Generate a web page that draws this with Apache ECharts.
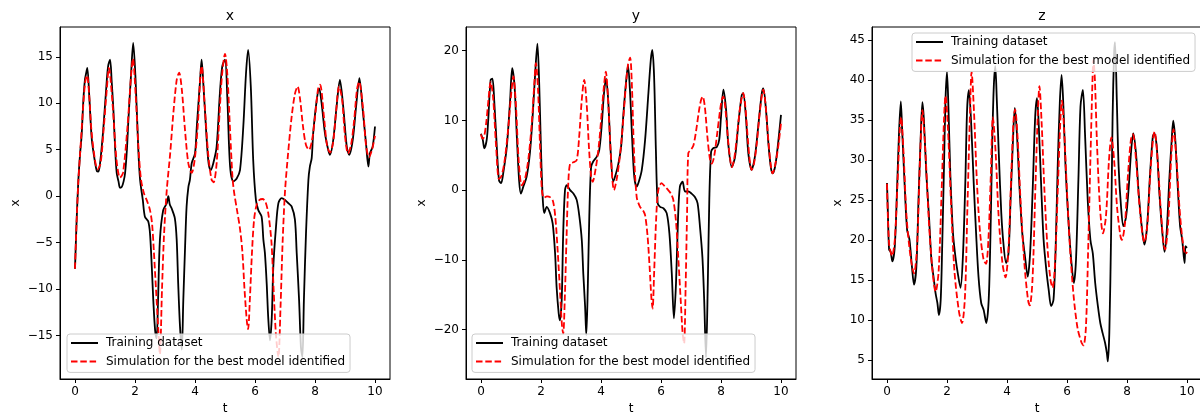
<!DOCTYPE html>
<html><head><meta charset="utf-8">
<script src="https://cdn.jsdelivr.net/npm/echarts@6/dist/echarts.min.js"></script>
<style>html,body{margin:0;padding:0;background:#fff}#c{width:1200px;height:414px}</style>
</head><body><div id="c"></div>
<script>
// ---------------- data ----------------
const panelTitles = ['x', 'y', 'z'];
const seriesNames = ['Training dataset', 'Simulation for the best model identified'];
const tTicks = [0, 2, 4, 6, 8, 10];
const xTicks = [-15, -10, -5, 0, 5, 10, 15];
const yTicks = [-20, -10, 0, 10, 20];
const zTicks = [5, 10, 15, 20, 25, 30, 35, 40, 45];

const xTraining = [[0,-7.8],[0.05,-3],[0.11,1.6],[0.17,4.6],[0.22,6.5],[0.28,10.4],[0.33,12.5],[0.37,13.2],[0.41,13.8],[0.48,10.5],[0.56,6.1],[0.67,3.6],[0.73,2.7],[0.78,2.65],[0.83,3.4],[0.94,7.1],[1.06,12.5],[1.11,14.1],[1.17,14.7],[1.22,12.5],[1.28,9.3],[1.34,5.0],[1.39,2.5],[1.45,1.6],[1.5,0.9],[1.56,1.0],[1.62,1.6],[1.67,2.5],[1.73,5],[1.78,8.2],[1.87,13.2],[1.94,16.5],[2.02,12.5],[2.11,5.0],[2.17,1.75],[2.26,-0.4],[2.33,-2.2],[2.44,-2.7],[2.5,-4.0],[2.56,-7.6],[2.61,-11.2],[2.67,-14.4],[2.72,-15.3],[2.77,-11],[2.83,-4.7],[2.94,-1.5],[3.06,-0.75],[3.11,0],[3.16,-0.9],[3.22,-1.3],[3.33,-2.4],[3.39,-4.7],[3.44,-9.4],[3.5,-14],[3.56,-16.5],[3.61,-11.2],[3.67,-5.4],[3.72,-1.1],[3.78,1.0],[3.83,1.75],[3.89,3.55],[4.0,4.6],[4.06,7.5],[4.17,12.5],[4.22,14.7],[4.28,12],[4.33,9.3],[4.44,3.9],[4.52,2.8],[4.61,3.55],[4.72,5.3],[4.83,11.1],[4.91,14.0],[5.0,14.7],[5.08,10.4],[5.17,3.2],[5.28,1.6],[5.39,1.9],[5.5,2.8],[5.61,7.5],[5.7,13.2],[5.77,15.75],[5.86,11.8],[5.94,3.9],[6.03,-0.4],[6.11,-1.5],[6.22,-2.2],[6.28,-4.7],[6.33,-6.1],[6.39,-9.4],[6.44,-13],[6.5,-15.5],[6.56,-13],[6.61,-7.6],[6.7,-3.3],[6.78,-0.75],[6.89,-0.2],[7.0,-0.4],[7.11,-0.75],[7.22,-1.1],[7.33,-2.5],[7.39,-6.1],[7.47,-11.2],[7.53,-16.2],[7.58,-17.3],[7.63,-11.2],[7.7,-4],[7.78,1.75],[7.83,3.2],[7.89,4.1],[7.94,6.8],[8.06,10.4],[8.14,11.6],[8.22,10],[8.33,6.8],[8.44,5.0],[8.5,4.45],[8.61,6.1],[8.72,9.65],[8.83,12.5],[8.94,9.65],[9.06,5.3],[9.14,4.45],[9.26,6.1],[9.37,9.65],[9.48,12.7],[9.59,9.3],[9.7,5.7],[9.78,3.2],[9.83,4.6],[9.92,5.3],[10,7.5]];

const xSimulation = [[0,-7.8],[0.05,-3],[0.11,1.5],[0.17,4.6],[0.28,10],[0.34,12.3],[0.4,13],[0.47,11],[0.55,7],[0.67,3.8],[0.75,2.9],[0.85,3.5],[0.95,7],[1.06,11.5],[1.13,13.8],[1.25,10],[1.38,4],[1.5,2.0],[1.6,2.5],[1.75,7.5],[1.87,13],[1.93,14.8],[2.02,11],[2.12,5],[2.2,1.8],[2.3,0.3],[2.4,-0.5],[2.5,-1.5],[2.57,-3],[2.63,-6],[2.7,-10],[2.78,-14.5],[2.83,-17.0],[2.9,-10],[2.97,-4],[3.06,0.7],[3.17,4.5],[3.28,9],[3.39,12.5],[3.47,13.3],[3.56,11.5],[3.67,7],[3.78,3.5],[3.89,2.5],[4.0,4.2],[4.1,8],[4.17,12.5],[4.22,14],[4.33,9.5],[4.44,4.5],[4.55,1.8],[4.62,1.5],[4.72,3.5],[4.82,9],[4.9,13],[5.0,15.3],[5.08,13],[5.17,7],[5.25,2],[5.3,0.5],[5.4,-1.5],[5.5,-3.5],[5.58,-6],[5.65,-10],[5.73,-13.5],[5.77,-14.3],[5.83,-11],[5.9,-6],[5.97,-2.5],[6.05,-1],[6.15,-0.4],[6.25,-0.3],[6.35,-0.6],[6.45,-2],[6.55,-5],[6.62,-10],[6.7,-15],[6.78,-17.3],[6.85,-12],[6.92,-5],[7.0,0.5],[7.1,4.5],[7.22,8.5],[7.33,11],[7.42,11.8],[7.5,10.5],[7.6,7.5],[7.7,5.5],[7.8,5.0],[7.9,6],[8.0,8.5],[8.1,11.5],[8.17,12],[8.3,8.5],[8.4,5.5],[8.5,4.7],[8.6,5.7],[8.7,9],[8.8,11.8],[8.9,10.5],[9.0,6.5],[9.1,4.6],[9.2,5.5],[9.3,8],[9.4,11.5],[9.47,12.3],[9.6,9.5],[9.7,5.5],[9.8,4.2],[9.9,5],[10,6.5]];

const yTraining = [[0,8.1],[0.06,7.2],[0.11,6.0],[0.19,7.2],[0.24,10],[0.32,15.8],[0.38,16],[0.44,12.9],[0.52,6.7],[0.6,1.4],[0.67,1.0],[0.74,2.4],[0.86,6.2],[0.97,12.9],[1.04,17.5],[1.12,14.8],[1.19,8.1],[1.27,1.4],[1.33,-0.5],[1.41,0.5],[1.52,1.9],[1.63,5.3],[1.72,10.5],[1.8,16.3],[1.88,21],[1.94,15.3],[2.0,5.7],[2.06,-1.4],[2.11,-3.3],[2.19,-2.4],[2.3,-3.3],[2.39,-4.8],[2.47,-9.1],[2.52,-13.9],[2.59,-17.7],[2.63,-18.7],[2.69,-15.8],[2.74,-6.2],[2.8,0],[2.86,0.7],[2.97,0],[3.08,-0.5],[3.19,-1.4],[3.28,-3.8],[3.36,-7.2],[3.41,-12],[3.47,-16.7],[3.51,-20.8],[3.56,-13.9],[3.61,-3.8],[3.67,3.3],[3.74,4.1],[3.86,4.8],[3.94,5.7],[4.02,9.1],[4.1,13.9],[4.17,16],[4.24,12.9],[4.32,5.7],[4.41,1.2],[4.5,2.4],[4.58,3.8],[4.67,6.2],[4.74,10.5],[4.82,14.8],[4.9,17.9],[4.97,13.9],[5.04,7.2],[5.11,1.9],[5.19,0.5],[5.26,1.2],[5.36,2.9],[5.47,7.2],[5.58,13.9],[5.66,18.7],[5.71,20.1],[5.77,16.3],[5.83,5.7],[5.89,-1.9],[5.97,-2.4],[6.08,-2.6],[6.19,-3.3],[6.28,-6.2],[6.36,-12],[6.43,-18.4],[6.5,-13.4],[6.57,-3.8],[6.63,0.5],[6.72,1.2],[6.8,-0.2],[6.91,-0.2],[7.02,-0.5],[7.13,-1.0],[7.22,-1.9],[7.3,-5.3],[7.38,-9.6],[7.44,-15.8],[7.5,-24],[7.56,-13.4],[7.61,-1.4],[7.67,5.5],[7.74,6.0],[7.86,6.2],[7.94,7.2],[8.0,10.5],[8.08,14.4],[8.17,11.5],[8.24,6.7],[8.36,3.3],[8.47,4.8],[8.58,9.6],[8.69,13.6],[8.74,13.9],[8.83,10.5],[8.91,5.3],[9.02,2.9],[9.13,4.8],[9.24,9.1],[9.36,13.9],[9.41,14.6],[9.5,11.5],[9.58,6.7],[9.66,3.3],[9.72,2.4],[9.8,3.3],[9.89,6.2],[10,10.8]];

const ySimulation = [[0,8.0],[0.05,7.4],[0.1,7.6],[0.17,9.5],[0.25,13],[0.32,15.5],[0.4,13.5],[0.5,6.5],[0.6,1.6],[0.68,2],[0.78,4],[0.9,8.5],[1.0,13.5],[1.08,16.3],[1.16,12.5],[1.26,4],[1.36,0.7],[1.46,1.5],[1.58,4.5],[1.7,10],[1.78,15.5],[1.83,18.2],[1.9,14.5],[1.97,6],[2.03,0],[2.1,-1.1],[2.2,-0.9],[2.3,-1.0],[2.4,-1.6],[2.48,-4],[2.56,-9],[2.64,-15],[2.7,-19.5],[2.74,-20.6],[2.79,-16],[2.85,-7],[2.91,1],[2.97,3.8],[3.08,4.0],[3.19,4.3],[3.27,7.5],[3.36,13],[3.44,15.8],[3.52,12.5],[3.6,6],[3.67,2],[3.72,1.2],[3.82,3],[3.93,6.5],[4.03,11.5],[4.1,15],[4.16,17],[4.23,13.5],[4.31,6.5],[4.38,1.5],[4.43,0],[4.52,1.5],[4.62,4.5],[4.72,9],[4.82,14.5],[4.9,18],[4.97,19],[5.03,15],[5.1,5.5],[5.19,-1],[5.3,-2.4],[5.4,-2.9],[5.47,-3.6],[5.55,-6.5],[5.62,-11],[5.68,-15.5],[5.72,-17],[5.77,-12],[5.84,-4],[5.91,0],[6.02,1.0],[6.13,0.5],[6.24,0],[6.33,-0.5],[6.41,-1.4],[6.5,-4.5],[6.58,-10],[6.66,-16],[6.72,-20.5],[6.77,-22],[6.82,-14],[6.87,-3],[6.91,5.3],[7.0,5.8],[7.08,6.4],[7.17,8.5],[7.27,11.5],[7.34,13],[7.39,13.4],[7.46,12],[7.55,7.5],[7.63,4.5],[7.69,3.8],[7.77,4.8],[7.87,8],[7.97,11.5],[8.03,13],[8.08,13.4],[8.15,11.5],[8.25,6.5],[8.32,4],[8.36,3.3],[8.44,4.5],[8.54,8],[8.64,12],[8.74,13.9],[8.8,12.5],[8.9,7],[8.97,3.8],[9.02,2.9],[9.1,3.8],[9.2,7],[9.3,11.5],[9.41,14.4],[9.48,12.5],[9.58,7],[9.66,3.5],[9.72,2.4],[9.8,3.5],[9.9,6],[10,9.6]];

const zTraining = [[0,27.1],[0.03,23.3],[0.07,18.75],[0.12,18.5],[0.18,17.3],[0.26,19.2],[0.33,25.8],[0.4,33.3],[0.46,37.3],[0.51,33.3],[0.59,26.7],[0.67,21.25],[0.75,20],[0.83,16.7],[0.9,14.4],[0.98,16.7],[1.05,25],[1.12,32.5],[1.18,37.2],[1.23,35],[1.31,28.3],[1.4,22.9],[1.48,17.5],[1.55,15.4],[1.62,13.3],[1.68,12.1],[1.73,10.6],[1.79,12.5],[1.84,19.2],[1.9,29.2],[1.95,37.5],[2.0,41],[2.05,36.25],[2.11,28.3],[2.2,20.8],[2.28,17.9],[2.36,15.8],[2.45,14.0],[2.53,17.9],[2.61,27.1],[2.67,36.25],[2.73,38.7],[2.81,34.2],[2.89,27.1],[2.97,20.8],[3.05,15.4],[3.14,12.1],[3.22,11.25],[3.31,9.6],[3.39,12.5],[3.45,20.8],[3.51,32.5],[3.56,39.2],[3.61,41.7],[3.66,37.5],[3.73,30.4],[3.81,23.3],[3.88,19.6],[3.97,17.1],[4.05,18.3],[4.12,25],[4.2,32.5],[4.26,36.5],[4.33,33.3],[4.42,26.25],[4.51,20.8],[4.6,17.9],[4.69,15.4],[4.77,18.3],[4.86,26.7],[4.94,35.4],[5.0,37.7],[5.06,34.2],[5.14,26.7],[5.22,20],[5.31,16.25],[5.39,13.75],[5.47,11.7],[5.55,12.5],[5.62,18.75],[5.69,29.2],[5.76,37.1],[5.82,40.6],[5.88,36.7],[5.95,29.2],[6.04,22.9],[6.14,17.5],[6.23,14.6],[6.3,17.5],[6.38,27.5],[6.45,36.7],[6.53,38.75],[6.6,33.3],[6.69,25],[6.78,20],[6.86,18.3],[6.94,14.6],[7.03,11.7],[7.11,9.6],[7.19,8.3],[7.27,7.1],[7.33,5.8],[7.36,4.8],[7.41,8.3],[7.47,20.8],[7.52,35.4],[7.57,43.3],[7.6,44.7],[7.66,37.5],[7.72,29.2],[7.8,24.2],[7.88,21.7],[7.97,22.9],[8.06,26.7],[8.14,31.25],[8.21,33.3],[8.3,30.8],[8.39,25.8],[8.49,21.7],[8.58,19.4],[8.67,21.7],[8.77,28.3],[8.86,32.9],[8.91,33.3],[8.99,31.7],[9.08,25.8],[9.17,21.25],[9.25,18.5],[9.32,20.8],[9.41,27.5],[9.49,32.5],[9.54,34.9],[9.61,32.5],[9.69,26.7],[9.77,21.7],[9.84,20],[9.92,17.1],[9.95,19.2],[10,19]];

const zSimulation = [[0,27],[0.07,19.5],[0.17,18],[0.26,20],[0.35,27],[0.43,34],[0.47,35.3],[0.55,31],[0.65,23],[0.78,18],[0.9,15.8],[1.0,19],[1.1,30],[1.18,36.2],[1.28,31],[1.4,22],[1.52,16],[1.62,13.5],[1.72,16],[1.82,26],[1.9,35],[1.95,38],[2.03,34],[2.13,25],[2.25,16],[2.4,11],[2.5,9.6],[2.6,13],[2.68,24],[2.76,35],[2.82,41],[2.9,36],[3.0,27],[3.1,21],[3.22,17.5],[3.3,17.0],[3.38,20],[3.46,28],[3.53,35.3],[3.62,31],[3.72,23],[3.85,17],[3.95,15.3],[4.05,19],[4.15,29],[4.22,35],[4.27,36.3],[4.35,33],[4.45,25],[4.58,17],[4.7,12.5],[4.76,11.8],[4.85,15],[4.95,27],[5.03,36],[5.08,39.2],[5.15,35],[5.25,26],[5.35,19],[5.45,15],[5.52,14],[5.6,17],[5.7,27],[5.78,35],[5.83,37.4],[5.9,34],[6.0,26],[6.1,19],[6.22,13],[6.35,9],[6.48,7.2],[6.55,6.8],[6.63,9],[6.7,18],[6.78,30],[6.85,40],[6.88,42.5],[6.93,40],[7.0,32],[7.1,24],[7.2,20.8],[7.3,23],[7.4,30],[7.48,32.8],[7.57,30],[7.67,24],[7.78,20.5],[7.83,20],[7.93,22],[8.03,28],[8.13,32.5],[8.2,33.2],[8.3,30],[8.4,25],[8.52,20.5],[8.58,19.7],[8.68,22],[8.78,28.5],[8.88,33],[8.92,33.5],[9.02,30],[9.12,24],[9.22,19.5],[9.27,18.8],[9.37,22],[9.47,30],[9.55,33.8],[9.65,30],[9.75,24],[9.85,20],[9.95,18.2],[10,18.5]];

// ---------------- layout ----------------
const FONT = 'DejaVu Sans';
const panels = [
  {left: 60,  yMin: -19.66, yMax: 18.2, ticks: xTicks, train: xTraining, sim: xSimulation, nameGap: 38, legend: {left: 67, top: 334}},
  {left: 466, yMin: -27.1,  yMax: 23.4, ticks: yTicks, train: yTraining, sim: ySimulation, nameGap: 38, legend: {left: 472, top: 334}},
  {left: 872, yMin: 2.6,    yMax: 46.6, ticks: zTicks, train: zTraining, sim: zSimulation, nameGap: 28, legend: {left: 912, top: 33}}
];
const W = 330, TOP = 27, H = 352;
const minus = v => String(v).replace('-', '\u2212');

const option = {
  animation: false,
  backgroundColor: '#fff',
  textStyle: {fontFamily: FONT},
  title: panels.map((p, i) => ({
    text: panelTitles[i], left: p.left + W / 2, top: 4, textAlign: 'center',
    textStyle: {fontFamily: FONT, fontSize: 14, fontWeight: 'normal', color: '#000'}
  })),
  legend: panels.map(p => ({
    data: seriesNames, orient: 'vertical', left: p.legend.left, top: p.legend.top,
    padding: [2, 5, 4, 3], itemWidth: 27, itemHeight: 14, itemGap: 4.4,
    backgroundColor: 'rgba(255,255,255,0.8)', borderColor: '#cccccc', borderWidth: 1, borderRadius: 3,
    selectedMode: false,
    itemStyle: {opacity: 0},
    textStyle: {fontFamily: FONT, fontSize: 12, color: '#000', padding: [0, 0, 0, 3], lineHeight: 14}
  })),
  grid: panels.map(p => ({left: p.left, top: TOP, width: W, height: H, show: true,
    borderColor: '#000', borderWidth: 1, backgroundColor: 'transparent',
    containLabel: false, outerBoundsMode: 'none'})),
  xAxis: panels.map((p, i) => ({
    type: 'value', gridIndex: i, min: -0.5, max: 10.5,
    name: 't', nameLocation: 'middle', nameGap: 22,
    nameTextStyle: {fontFamily: FONT, fontSize: 12, color: '#000'},
    axisLine: {show: true, onZero: false, lineStyle: {color: '#000', width: 1}},
    axisTick: {show: true, length: 4, inside: false, customValues: tTicks, lineStyle: {color: '#000'}},
    axisLabel: {customValues: tTicks, margin: 7, fontFamily: FONT, fontSize: 12, color: '#000', formatter: minus},
    splitLine: {show: false}
  })),
  yAxis: panels.map((p, i) => ({
    type: 'value', gridIndex: i, min: p.yMin, max: p.yMax,
    name: 'x', nameLocation: 'middle', nameGap: p.nameGap, nameRotate: 90,
    nameTextStyle: {fontFamily: FONT, fontSize: 12, color: '#000'},
    axisLine: {show: true, onZero: false, lineStyle: {color: '#000', width: 1}},
    axisTick: {show: true, length: 4, inside: false, customValues: p.ticks, lineStyle: {color: '#000'}},
    axisLabel: {customValues: p.ticks, margin: 7, fontFamily: FONT, fontSize: 12, color: '#000', formatter: minus},
    splitLine: {show: false}
  })),
  series: panels.flatMap((p, i) => [
    {name: seriesNames[0], type: 'line', xAxisIndex: i, yAxisIndex: i, data: p.train,
     symbol: 'none', smooth: 0.3, color: '#000', lineStyle: {color: '#000', width: 1.8}, z: 2},
    {name: seriesNames[1], type: 'line', xAxisIndex: i, yAxisIndex: i, data: p.sim,
     symbol: 'none', smooth: 0.3, color: '#ff0000', lineStyle: {color: '#ff0000', width: 1.8, type: [6.5, 2.8]}, z: 3}
  ])
};
const chart = echarts.init(document.getElementById('c'), null, {renderer: 'canvas'});
chart.setOption(option);
</script></body></html>
